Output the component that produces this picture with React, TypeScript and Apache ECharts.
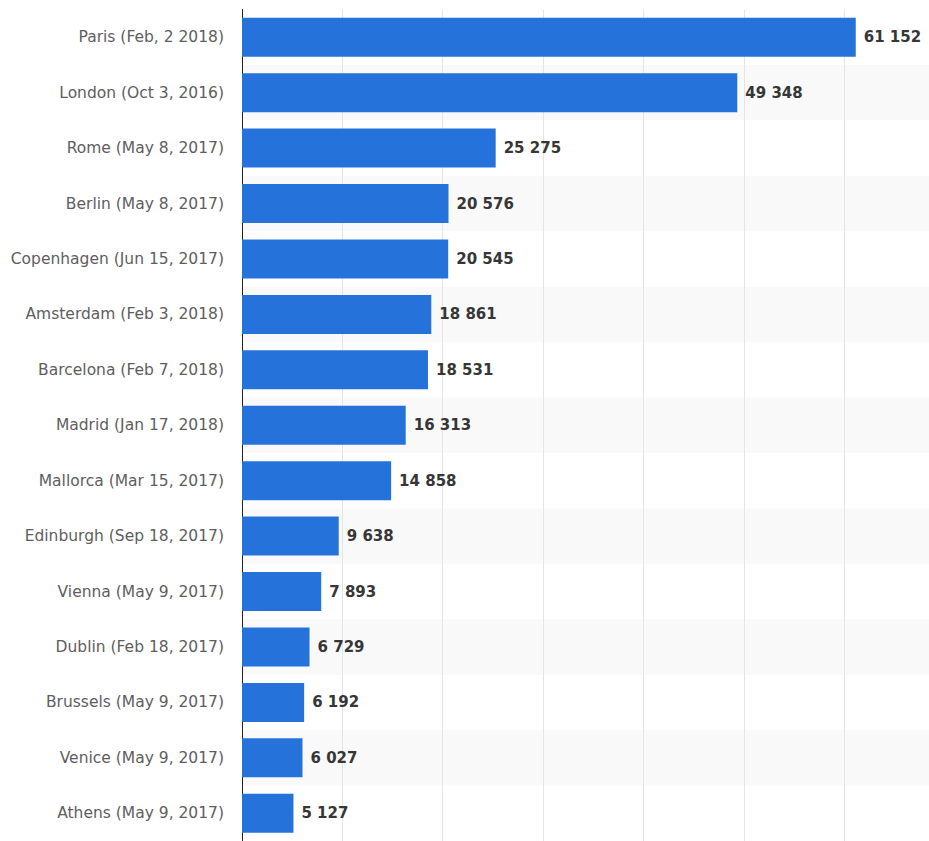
import React, { useEffect, useRef } from "react";
import * as echarts from "echarts";

const categories = [
  "Paris (Feb, 2 2018)",
  "London (Oct 3, 2016)",
  "Rome (May 8, 2017)",
  "Berlin (May 8, 2017)",
  "Copenhagen (Jun 15, 2017)",
  "Amsterdam (Feb 3, 2018)",
  "Barcelona (Feb 7, 2018)",
  "Madrid (Jan 17, 2018)",
  "Mallorca (Mar 15, 2017)",
  "Edinburgh (Sep 18, 2017)",
  "Vienna (May 9, 2017)",
  "Dublin (Feb 18, 2017)",
  "Brussels (May 9, 2017)",
  "Venice (May 9, 2017)",
  "Athens (May 9, 2017)",
];

const listings = [
  61152, 49348, 25275, 20576, 20545, 18861, 18531, 16313, 14858, 9638, 7893,
  6729, 6192, 6027, 5127,
];

// visible end of the value axis (the plot is cropped at the right edge)
const axisMax = 68450;
const axisStep = 10000;

function fmt(v: number): string {
  return String(Math.round(v)).replace(/\B(?=(\d{3})+(?!\d))/g, " ");
}

export default function App() {
  const ref = useRef<HTMLDivElement>(null);
  useEffect(() => {
    if (!ref.current) return;
    const chart = echarts.init(ref.current, undefined, { renderer: "svg" });
    chart.setOption({
      animation: false,
      backgroundColor: "#ffffff",
      grid: { left: 242, top: 9.5, right: 0, height: 834 },
      xAxis: {
        type: "value",
        min: 0,
        max: axisMax,
        interval: axisStep,
        axisLine: { show: false },
        axisTick: { show: false },
        axisLabel: { show: false },
        splitLine: {
          show: true,
          showMaxLine: false,
          lineStyle: { color: "#e4e4e4", width: 1 },
        },
      },
      yAxis: {
        type: "category",
        inverse: true,
        data: categories,
        axisLine: { show: true, lineStyle: { color: "#222222", width: 1 } },
        axisTick: { show: false },
        axisLabel: {
          color: "#5e5e5e",
          fontSize: 15.5,
          fontFamily: "DejaVu Sans",
          margin: 18,
        },
        splitArea: {
          show: true,
          areaStyle: { color: ["rgba(255,255,255,0)", "#f9f9f9"] },
        },
      },
      series: [
        {
          type: "bar",
          data: listings,
          barWidth: 39,
          itemStyle: { color: "#2672db" },
          label: {
            show: true,
            position: "right",
            distance: 8,
            color: "#363636",
            fontSize: 15,
            fontWeight: "bold",
            fontFamily: "DejaVu Sans",
            formatter: (p: any) => fmt(p.value),
          },
        },
      ],
    });
    return () => chart.dispose();
  }, []);
  return (
    <div
      ref={ref}
      style={{ position: "fixed", left: 0, top: 0, width: 929, height: 841 }}
    />
  );
}
